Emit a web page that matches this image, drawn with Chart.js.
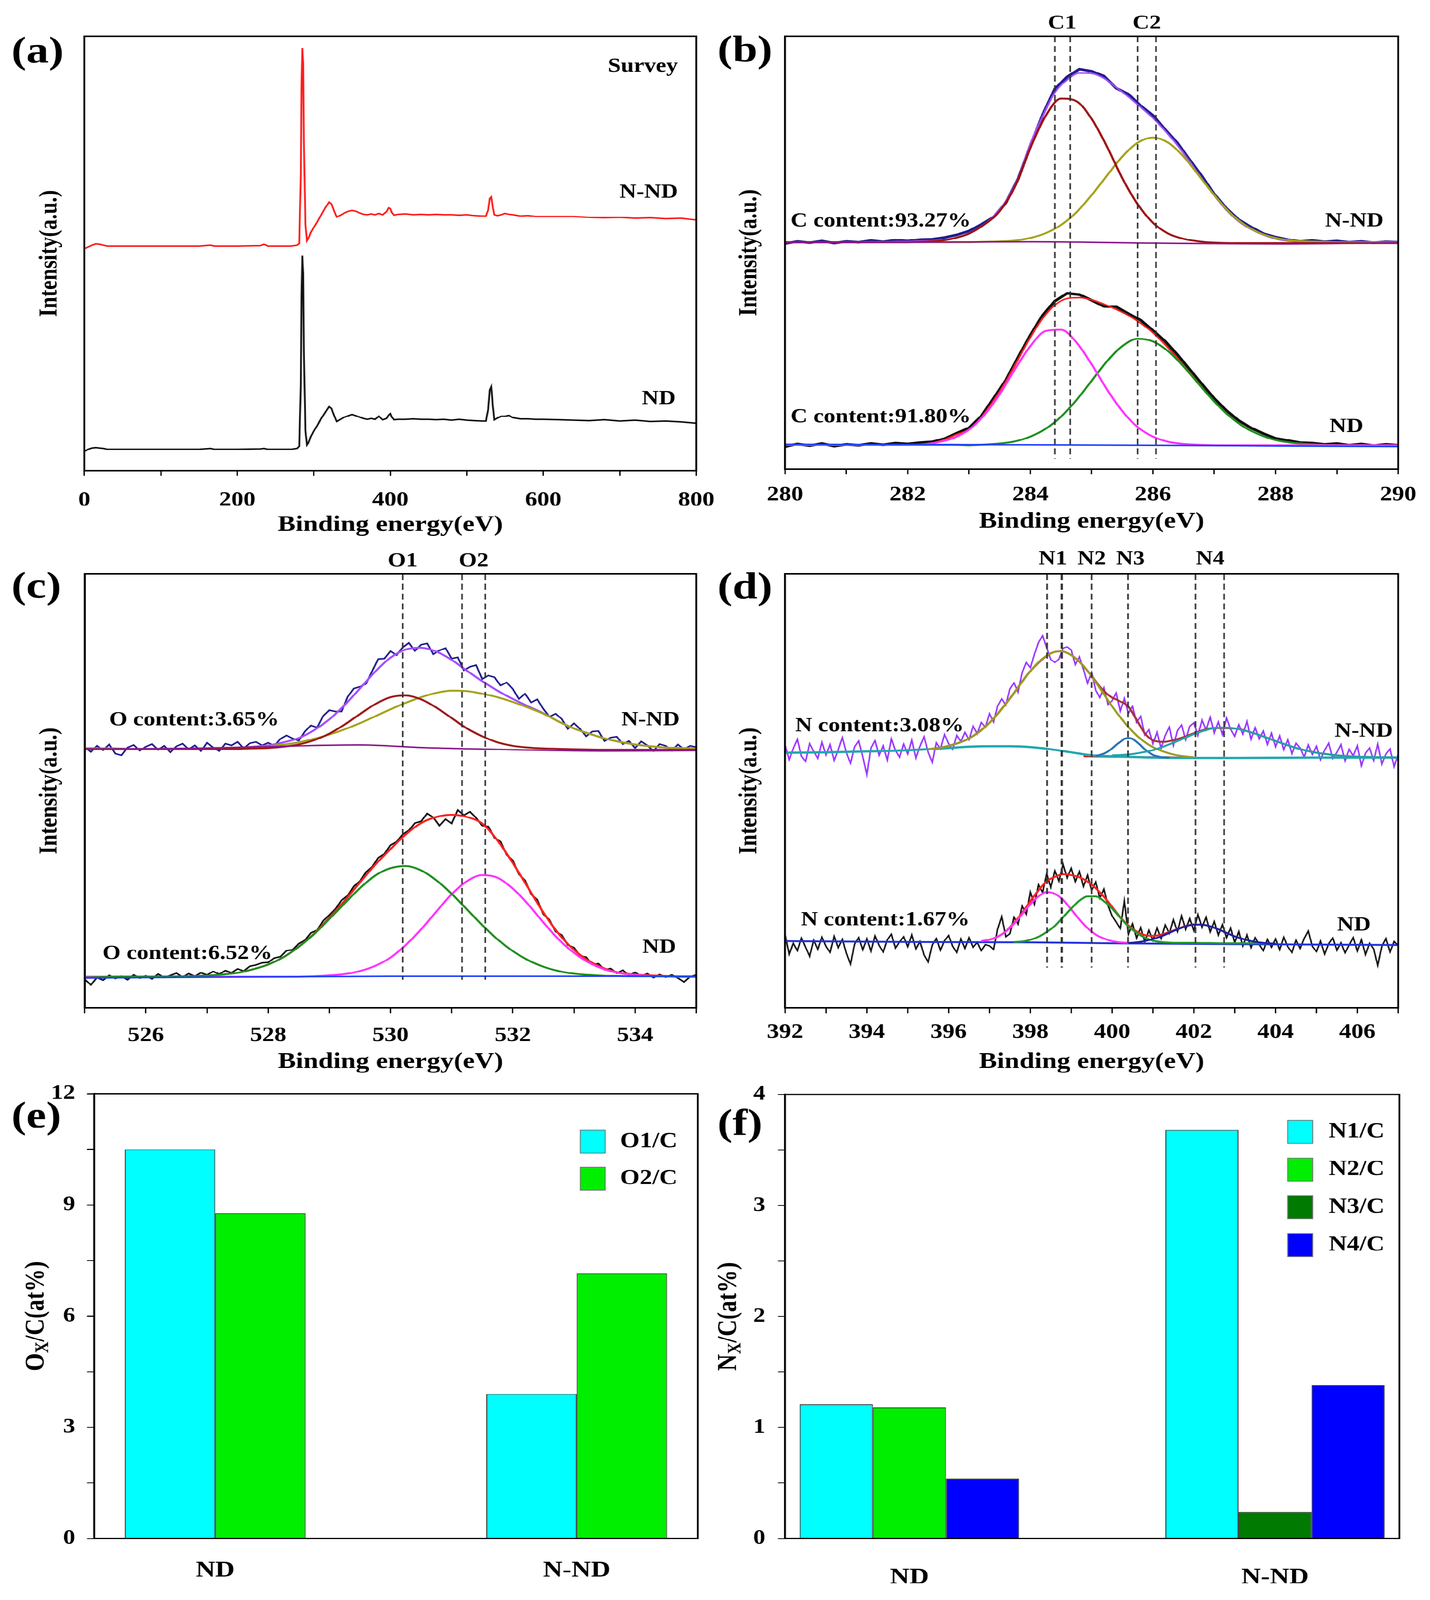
<!DOCTYPE html>
<html>
<head>
<meta charset="utf-8">
<title>XPS spectra of ND and N-ND</title>
<script src="https://cdn.jsdelivr.net/npm/chart.js@4.4.1/dist/chart.umd.min.js"></script>
<style>
  html, body { margin: 0; padding: 0; background: #fff; overflow: hidden; }
  #page { position: relative; width: 3185px; height: 4240px; transform-origin: 0 0; }
  #page canvas { position: absolute; }
</style>
</head>
<body>
<div id="page"></div>
<script>
// ---------- (a) survey ----------
const surveyE = [0, 5, 10, 15, 20, 25, 30, 50, 100, 150, 165, 170, 200, 230, 235, 240, 270, 278, 281, 283,
  284, 285, 286, 287, 289, 291, 293, 296, 300, 305, 310, 315, 320, 323, 326, 330, 335, 340, 345, 350,
  355, 360, 365, 370, 375, 380, 385, 390, 395, 398, 400, 402, 405, 410, 420, 430, 440, 450, 460, 470,
  480, 490, 500, 510, 520, 525, 528, 530, 532, 534, 536, 540, 545, 550, 555, 560, 570, 580, 590, 600,
  620, 640, 660, 680, 700, 720, 740, 760, 780, 800];
const surveyNND = [51.1, 51.5, 51.9, 52.2, 52.1, 51.9, 51.7, 51.7, 51.7, 51.7, 51.9, 51.7, 51.7, 51.8, 52.1, 51.7, 51.7, 51.9, 52.3, 68.0,
  88.2, 97.3, 93.8, 76.1, 56.8, 52.9, 53.5, 54.8, 56.0, 57.4, 59.0, 60.5, 61.8, 61.4, 60.0, 58.4, 58.8, 59.3, 59.7, 59.9,
  59.7, 59.3, 59.0, 58.9, 59.1, 58.9, 59.2, 58.9, 59.6, 60.5, 60.3, 59.4, 58.8, 59.0, 59.1, 58.9, 59.0, 58.9, 59.0, 58.9,
  58.9, 58.8, 58.9, 58.7, 58.6, 58.6, 60.0, 62.6, 63.0, 60.6, 58.9, 58.7, 58.9, 59.2, 59.0, 58.9, 58.6, 58.7, 58.5, 58.5,
  58.5, 58.5, 58.3, 58.2, 58.3, 58.1, 58.2, 58.0, 58.1, 57.7];
const surveyND = [4.4, 4.9, 5.2, 5.3, 5.2, 5.1, 4.9, 4.9, 4.9, 4.9, 5.1, 4.9, 4.9, 5.0, 5.1, 4.9, 4.9, 5.1, 5.6, 19.7,
  39.9, 49.5, 45.5, 27.8, 9.3, 5.9, 6.4, 7.8, 9.1, 10.5, 12.1, 13.4, 14.7, 14.3, 12.9, 11.3, 11.8, 12.3, 12.6, 12.9,
  12.6, 12.3, 12.0, 11.8, 12.0, 11.8, 12.5, 11.7, 12.0, 12.8, 13.1, 12.3, 11.7, 11.8, 11.8, 11.9, 11.8, 11.8, 11.7, 11.8,
  11.6, 11.8, 11.6, 11.5, 11.4, 11.4, 14.1, 18.5, 19.3, 14.9, 11.7, 12.1, 12.5, 12.5, 12.7, 12.2, 11.9, 11.9, 11.8, 11.8,
  11.7, 11.6, 11.5, 11.7, 11.4, 11.6, 11.3, 11.4, 11.2, 10.9];
const surveyTicks = [0, 200, 400, 600, 800];

// ---------- (b) C 1s ----------
const cTicks = [280, 282, 284, 286, 288, 290];
const cPeakLines = [284.4, 284.65, 285.75, 286.05];
const cPeakNames = ['C1', 'C2'];
const cPeakNameE = [284.52, 285.9];
const cRawNND = [52.1, 52.6, 52.3, 52.7, 52.2, 52.6, 52.4, 52.8, 52.5, 52.9, 52.7, 53.0, 53.1, 53.5, 54.1, 55.0, 56.5, 58.2, 61.5, 67.0,
  74.6, 81.8, 87.8, 90.6, 92.4, 91.9, 90.8, 88.0, 86.6, 83.9, 81.7, 78.4, 75.3, 71.4, 67.6, 63.5, 60.2, 57.6, 55.9, 54.4,
  53.6, 53.0, 52.6, 52.8, 52.5, 52.7, 52.4, 52.6, 52.3, 52.5, 52.4];
const cEnvNND = [52.4, 52.4, 52.4, 52.4, 52.4, 52.4, 52.45, 52.5, 52.5, 52.55, 52.6, 52.7, 52.75, 53.0, 53.5, 54.5, 56.1, 58.4, 61.9, 67.2,
  75.2, 81.5, 87.0, 89.9, 91.5, 91.4, 90.3, 88.2, 86.0, 83.6, 81.1, 78.1, 74.8, 71.0, 67.0, 63.2, 59.8, 57.2, 55.4, 54.1,
  53.2, 52.7, 52.5, 52.4, 52.4, 52.4, 52.4, 52.4, 52.4, 52.4, 52.4];
const cC1NND = [52.4, 52.4, 52.4, 52.4, 52.4, 52.4, 52.4, 52.4, 52.4, 52.5, 52.7, 53.3, 54.4, 56.5, 59.6, 65.3, 74.2, 81.6, 85.6, 85.0,
  80.9, 74.5, 67.2, 61.2, 56.9, 54.4, 53.2, 52.6, 52.3, 52.2, 52.2, 52.2, 52.2, 52.2, 52.2, 52.2, 52.2, 52.2, 52.2, 52.2, 52.2];
const cC2NND = [52.4, 52.4, 52.4, 52.4, 52.4, 52.4, 52.4, 52.4, 52.4, 52.4, 52.4, 52.4, 52.4, 52.5, 52.6, 52.8, 53.4, 54.5, 56.4, 59.3,
  63.3, 67.8, 72.2, 75.4, 76.6, 75.4, 72.2, 67.8, 63.3, 59.3, 56.4, 54.5, 53.4, 52.8, 52.6, 52.5, 52.4, 52.4, 52.4, 52.4, 52.4];
const cBaseE = [280, 282, 284, 286, 288, 290];
const cBaseNND = [52.3, 52.4, 52.5, 52.2, 52.0, 52.3];
const cRawND = [5.2, 5.8, 5.4, 5.9, 5.3, 5.7, 5.5, 5.9, 5.6, 6.0, 5.8, 6.1, 6.3, 7.0, 8.3, 9.5, 12.2, 16.3, 20.5, 25.8,
  30.9, 35.5, 38.8, 40.6, 40.3, 39.0, 37.6, 37.5, 35.9, 34.4, 32.0, 29.5, 26.4, 23.0, 19.6, 16.3, 13.5, 11.2, 9.5, 8.2,
  7.1, 6.6, 6.1, 6.0, 5.7, 5.9, 5.5, 5.8, 5.4, 5.7, 5.5];
const cEnvND = [5.6, 5.6, 5.6, 5.6, 5.6, 5.6, 5.6, 5.6, 5.6, 5.6, 5.6, 5.65, 6.0, 6.8, 8.0, 9.1, 11.9, 15.8, 20.2, 25.3,
  30.4, 34.8, 37.9, 39.4, 39.6, 39.1, 38.1, 36.9, 35.5, 33.7, 31.5, 28.7, 25.6, 22.3, 18.9, 15.6, 12.9, 10.6, 8.9, 7.6,
  6.7, 6.2, 5.9, 5.7, 5.6, 5.5, 5.5, 5.5, 5.5, 5.5, 5.5];
const cC1ND = [5.6, 5.6, 5.6, 5.6, 5.6, 5.6, 5.6, 5.6, 5.6, 5.7, 6.2, 7.2, 9.1, 12.5, 17.3, 23.1, 28.4, 31.9, 32.2, 29.3,
  24.2, 18.4, 13.4, 9.7, 7.5, 6.3, 5.8, 5.6, 5.5, 5.5, 5.5, 5.5, 5.5, 5.5, 5.5, 5.5, 5.5, 5.5, 5.5, 5.5, 5.5];
const cC2ND = [5.6, 5.6, 5.6, 5.6, 5.6, 5.6, 5.6, 5.6, 5.6, 5.6, 5.6, 5.6, 5.5, 5.65, 5.9, 6.4, 7.5, 9.3, 12.1, 15.9,
  20.4, 24.9, 28.4, 30.1, 29.5, 27.2, 23.7, 19.6, 15.6, 12.2, 9.6, 7.9, 6.7, 6.1, 5.8, 5.6, 5.5, 5.5, 5.5, 5.5, 5.5];
const cBaseND = [5.7, 5.65, 5.6, 5.5, 5.35, 5.2];

// ---------- (c) O 1s ----------
const oTicks = [526, 528, 530, 532, 534];
const oPeakLines = [530.2, 531.17, 531.55];
const oPeakNames = ['O1', 'O2'];
const oPeakNameE = [530.2, 531.36];
const oRawNND = [60.1, 59.0, 60.4, 59.4, 60.7, 58.6, 58.2, 60.0, 60.6, 59.3,
  60.2, 60.8, 59.5, 60.4, 58.9, 60.3, 60.9, 59.6, 60.5, 59.2,
  61.1, 60.0, 59.2, 60.9, 60.5, 61.3, 59.8, 61.0, 61.3, 60.5,
  61.1, 60.4, 62.0, 62.8, 62.1, 61.6, 63.7, 65.1, 64.6, 67.3,
  68.6, 68.3, 68.3, 71.7, 73.6, 74.0, 74.7, 77.6, 80.4, 80.5,
  82.2, 81.3, 83.1, 84.1, 82.3, 83.7, 84.0, 81.5, 82.4, 82.9,
  80.5, 80.8, 77.8, 78.6, 79.0, 75.8, 76.6, 76.2, 74.3, 75.0,
  73.5, 71.2, 72.4, 70.4, 71.1, 68.9, 67.1, 67.8, 66.6, 64.3,
  65.6, 64.3, 62.6, 63.7, 63.8, 61.5, 62.3, 62.5, 60.8, 61.5,
  59.9, 61.4, 60.5, 59.2, 60.8, 60.4, 59.3, 60.7, 59.6, 60.4, 60.1];
const oEnvNND = [59.8, 59.8, 59.8, 59.7, 59.7, 59.7, 59.7, 59.75, 59.8, 59.85, 59.9, 60.2, 60.5, 61.2, 62.2, 64.0, 66.5, 69.8, 73.6, 77.5,
  80.7, 82.6, 83.0, 82.1, 80.2, 77.7, 75.3, 73.1, 71.2, 69.5, 67.9, 66.0, 64.4, 63.2, 62.1, 61.3, 60.7, 60.3, 60.0, 59.9, 59.8];
const oO1NND = [59.7, 59.7, 59.7, 59.7, 59.7, 59.7, 59.7, 59.7, 59.7, 59.7, 59.7, 59.8, 59.9, 60.2, 60.7, 61.7, 63.2, 65.3, 67.7, 70.0,
  71.6, 72.0, 71.1, 69.2, 66.8, 64.4, 62.6, 61.2, 60.4, 60.0, 59.8, 59.7, 59.6, 59.55, 59.5, 59.5, 59.5, 59.5, 59.5, 59.5, 59.5];
const oO2NND = [59.9, 59.8, 59.8, 59.7, 59.7, 59.7, 59.7, 59.75, 59.8, 59.85, 59.9, 60.1, 60.3, 60.7, 61.2, 62.0, 63.0, 64.2, 65.6, 67.2,
  68.8, 70.3, 71.6, 72.6, 73.1, 73.0, 72.4, 71.6, 70.5, 69.2, 67.8, 66.0, 64.4, 63.2, 62.1, 61.3, 60.7, 60.3, 60.0, 59.9, 59.8];
const oBaseNNDE = [525, 527, 528.5, 529.5, 530.5, 532, 533.5, 535];
const oBaseNND = [59.7, 59.9, 60.4, 60.6, 60.0, 59.5, 59.2, 59.3];
const oRawND = [6.6, 5.3, 7.0, 6.4, 7.5, 6.8, 7.3, 6.5, 7.6, 6.9,
  7.4, 6.7, 7.8, 7.0, 7.5, 8.0, 7.1, 7.9, 7.3, 8.1,
  7.6, 8.4, 7.8, 8.6, 8.1, 9.0, 8.5, 9.6, 9.9, 10.4,
  10.5, 11.5, 11.8, 13.2, 13.4, 14.8, 15.6, 17.3, 17.9, 20.1,
  21.4, 22.8, 24.8, 25.9, 28.0, 29.2, 31.3, 32.5, 34.6, 35.5,
  37.5, 38.3, 40.0, 40.9, 42.6, 43.0, 44.8, 43.9, 42.0, 43.5,
  42.5, 45.6, 44.4, 45.2, 43.8, 42.0, 41.8, 39.2, 38.3, 35.3,
  34.0, 30.8, 29.4, 26.2, 24.9, 21.6, 20.3, 17.6, 16.8, 14.5,
  13.9, 12.0, 11.7, 10.0, 10.2, 8.8, 9.1, 8.0, 8.7, 7.5,
  8.2, 7.3, 7.9, 7.0, 7.7, 7.1, 7.6, 6.9, 6.0, 7.2, 7.6];
const oEnvND = [7.0, 7.1, 7.2, 7.2, 7.2, 7.2, 7.25, 7.3, 7.45, 7.7, 8.1, 8.9, 10.0, 11.7, 14.1, 17.1, 20.8, 24.7, 28.9, 33.0,
  36.6, 40.0, 42.6, 44.0, 44.5, 44.0, 42.5, 38.6, 33.4, 27.7, 22.0, 17.1, 13.4, 10.8, 9.1, 8.1, 7.7, 7.5, 7.35, 7.25, 7.2];
const oO1ND = [7.0, 7.1, 7.2, 7.2, 7.2, 7.2, 7.25, 7.3, 7.45, 7.7, 8.1, 8.9, 10.0, 11.7, 14.1, 17.0, 20.5, 24.1, 27.6, 30.5,
  32.2, 32.7, 31.7, 29.4, 26.3, 22.7, 19.1, 15.8, 13.1, 11.0, 9.5, 8.5, 7.9, 7.6, 7.4, 7.35, 7.3, 7.3, 7.25, 7.2, 7.2];
const oO2ND = [7.2, 7.2, 7.2, 7.2, 7.2, 7.2, 7.2, 7.2, 7.2, 7.2, 7.2, 7.2, 7.2, 7.2, 7.2, 7.3, 7.5, 7.8, 8.5, 9.7,
  11.6, 14.5, 18.1, 22.2, 26.2, 29.2, 30.6, 30.0, 27.5, 23.9, 19.7, 15.8, 12.7, 10.4, 8.9, 8.0, 7.6, 7.4, 7.3, 7.2, 7.2];
const oBaseNDE = [525, 530, 535];
const oBaseND = [6.9, 7.3, 7.3];

// ---------- (d) N 1s ----------
const nTicks = [392, 394, 396, 398, 400, 402, 404, 406];
const nPeakLines = [398.41, 398.77, 399.5, 400.39, 402.04, 402.74];
const nPeakNames = ['N1', 'N2', 'N3', 'N4'];
const nPeakNameE = [398.55, 399.5, 400.45, 402.4];
const nRawNND = [60.5, 57.2, 59.8, 61.9, 58.0, 56.8, 60.9, 59.1, 57.5, 61.2,
  58.3, 60.7, 57.0, 59.5, 62.3, 58.8, 56.4, 60.2, 61.5, 57.9,
  53.8, 59.9, 61.6, 58.2, 60.4, 57.1, 62.0, 59.3, 57.8, 60.8,
  58.5, 61.7, 57.6, 60.3, 62.5, 58.9, 56.6, 61.1, 59.7, 63.0,
  60.9, 59.6, 62.8, 61.4, 63.5, 61.8, 64.9, 63.2, 65.8, 64.7,
  67.8, 65.9, 69.6, 71.2, 69.8, 73.5, 74.9, 72.8, 77.3, 79.6,
  78.4, 81.5, 84.2, 85.8, 83.0, 80.3, 79.6, 80.4, 82.9, 83.2,
  82.5, 79.1, 80.9, 78.0, 74.8, 77.3, 73.2, 71.5, 73.8, 69.9,
  70.8, 72.6, 68.4, 71.3, 67.9, 69.5, 65.8, 67.2, 62.9, 64.1,
  60.9, 63.5, 59.8, 62.8, 64.7, 60.5, 63.9, 65.2, 61.8, 64.9,
  65.7, 62.8, 66.3, 64.1, 67.0, 63.4, 65.9, 63.0, 66.8, 64.2,
  62.6, 65.3, 63.1, 66.0, 61.9, 64.6, 62.0, 63.8, 60.7, 63.3,
  60.2, 62.7, 59.5, 61.8, 58.6, 61.0, 59.9, 57.8, 60.6, 58.4,
  60.3, 57.2, 59.4, 61.0, 57.5, 58.9, 60.7, 56.9, 59.6, 58.1,
  60.4, 55.8, 58.7, 59.9, 57.0, 60.8, 56.2, 58.5, 59.7, 55.6, 58.4];
const nN1NND = [59.6, 59.9, 60.4, 61.1, 62.1, 63.6, 65.7, 68.3, 71.3, 74.5, 77.6, 80.1, 81.7, 82.2, 81.3, 79.3, 76.4, 73.0,
  69.5, 66.4, 63.7, 61.6, 60.1, 59.1, 58.4, 58.0, 57.8];
const nN2NNDE = [399.3, 400, 400.8, 401.8];
const nN2NND = [58.0, 57.9, 57.8, 57.7];
const nN3NND = [58.1, 58.3, 58.6, 59.1, 59.8, 60.6, 61.3, 62.0, 62.2, 62.0, 61.3, 60.5, 59.6, 58.9, 58.3, 58.0, 57.8, 57.75, 57.7];
const nN4NND = [58.2, 58.3, 58.5, 58.9, 59.4, 60.2, 61.1, 62.1, 63.1, 63.9, 64.5, 64.6, 64.4, 63.9, 63.2, 62.4, 61.5, 60.7,
  59.9, 59.3, 58.8, 58.5, 58.2, 58.0, 57.9, 57.85, 57.8, 57.75, 57.7];
const nEnvNNDE = [395.5, 396, 396.5, 397, 397.5, 398, 398.5, 398.75, 399, 399.25, 399.5, 399.75, 400, 400.1, 400.2, 400.3,
  400.4, 400.5, 400.6, 400.7, 400.8, 400.9, 401, 401.25, 401.5, 401.75, 402, 402.5, 403, 403.5, 404, 404.5, 405, 405.5, 406, 407];
const nEnvNND = [59.6, 60.4, 62.1, 65.7, 71.3, 77.6, 81.7, 82.2, 81.3, 79.3, 76.5, 73.5, 71.5, 71.1, 70.6, 70.2,
  69.4, 68.0, 66.4, 64.8, 63.3, 62.3, 61.7, 61.3, 61.7, 62.4, 63.3, 64.5, 64.4, 63.2, 61.5, 59.9, 58.8, 58.2, 57.9, 57.7];
const nBaseNNDE = [392, 393, 394, 395, 396, 396.5, 397, 397.5, 398, 398.5, 399, 399.5, 400, 401, 402, 403, 405, 407];
const nBaseNND = [58.8, 58.9, 59.1, 59.4, 59.9, 60.2, 60.3, 60.3, 60.1, 59.6, 58.9, 58.2, 58.0, 57.7, 57.6, 57.6, 57.7, 57.7];
const nRawND = [16.8, 12.4, 14.9, 13.2, 16.1, 14.0, 11.9, 15.6, 13.5, 16.3,
  14.2, 12.8, 16.5, 13.9, 15.8, 12.6, 10.1, 14.7, 16.2, 13.4,
  15.9, 13.1, 16.6, 14.4, 12.9, 15.7, 17.0, 13.8, 15.2, 16.4,
  14.1, 16.8, 13.6, 15.3, 12.2, 10.6, 14.5, 16.0, 13.3, 15.5,
  16.7, 14.2, 12.8, 15.9, 13.7, 16.2, 14.0, 15.1, 13.2, 14.6,
  14.3, 13.5, 18.2, 21.0, 16.4, 17.1, 20.9, 19.3, 23.5, 21.6,
  26.7, 23.9, 28.4, 26.6, 30.9, 27.8, 31.6, 29.2, 33.1, 30.0,
  32.2, 29.1, 31.4, 28.0, 30.6, 27.1, 29.0, 25.3, 27.4, 23.6,
  21.2, 19.8, 18.3, 24.6, 17.0, 19.4, 16.1, 18.5, 15.3, 17.9,
  15.6, 18.4, 16.0, 19.1, 17.2, 20.3, 17.6, 21.2, 18.1, 20.6,
  17.8, 21.5, 18.6, 20.9, 17.5, 19.9, 16.8, 19.2, 16.2, 18.4,
  15.1, 17.6, 14.3, 16.8, 13.9, 16.2, 14.6, 13.2, 15.8, 14.0,
  15.9, 13.4, 16.3, 14.1, 12.8, 15.6, 13.7, 16.0, 17.7, 14.2,
  13.0, 15.4, 12.4, 14.8, 16.1, 13.3, 15.0, 12.7, 14.5, 16.2,
  13.1, 15.7, 12.3, 14.9, 13.6, 9.8, 14.2, 16.0, 12.9, 15.3, 14.4];
const nN1ND = [15.4, 15.7, 16.4, 17.6, 19.4, 21.6, 23.9, 25.7, 26.7, 26.3, 24.9, 22.7, 20.4, 18.4, 16.9, 16.0, 15.4, 15.1, 15.0];
const nN2ND = [15.2, 15.3, 15.7, 16.4, 17.5, 18.9, 20.9, 22.9, 24.7, 25.7, 25.7, 24.6, 22.9, 20.8, 18.8, 17.3, 16.2, 15.5,
  15.2, 15.05, 15.0, 15.0, 15.0, 14.95, 14.95, 14.9, 14.9, 14.9, 14.9, 14.9, 14.9, 14.85, 14.85];
const nN4ND = [14.95, 15.1, 15.4, 15.9, 16.5, 17.3, 18.1, 18.8, 19.2, 19.2, 18.8, 18.1, 17.3, 16.5, 15.9, 15.4, 15.1, 14.9, 14.8];
const nEnvND = [15.4, 15.75, 16.4, 17.65, 19.6, 21.9, 24.6, 27.1, 29.2, 30.2, 30.8, 30.6, 30.1, 29.1, 27.6, 25.6, 23.3, 20.9,
  19.0, 17.6, 16.8, 16.6, 16.9, 17.5, 18.2, 18.9, 19.3];
const nBaseNDE = [392, 395, 398, 400, 403, 407];
const nBaseND = [15.4, 15.2, 15.1, 14.9, 14.7, 14.5];

// ---------- (e), (f) ratios ----------
const groups = ['ND', 'N-ND'];
const oxO1 = [10.5, 3.9];
const oxO2 = [8.78, 7.15];
const oxTicks = [0, 3, 6, 9, 12];
const nxN1 = [1.21, 3.68];
const nxN2 = [1.18, null];
const nxN3 = [null, 0.24];
const nxN4 = [0.54, 1.38];
const nxTicks = [0, 1, 2, 3, 4];

// ---------- drawing ----------
const S = 1.15;   // the source figure is stretched a little sideways
const FONT = '"Liberation Serif", "Times New Roman", serif';
Chart.defaults.font.family = FONT;
Chart.defaults.color = '#000';

// fit the 4240px-tall figure into whatever height the window really has
const SY = Math.min(1, window.innerHeight / 4240);
document.getElementById('page').style.transform = `scale(${S}, ${SY})`;

function grid(a, b, step) {
  const n = Math.round((b - a) / step);
  return Array.from({length: n + 1}, (_, i) => Math.round((a + i * step) * 1000) / 1000);
}

function curve(xs, ys, color, width, smooth) {
  return {
    data: xs.map((x, i) => ({x, y: ys[i]})),
    borderColor: color, borderWidth: width, pointRadius: 0, fill: false, tension: 0,
    cubicInterpolationMode: smooth ? 'monotone' : 'default'
  };
}

function bars(label, vals, color, share) {
  return {
    label, data: vals.map((v, i) => ({x: i + 1, y: v})),
    backgroundColor: color, borderColor: '#333', borderWidth: 2,
    categoryPercentage: share, barPercentage: 1, skipNull: true
  };
}

function decor(p) {
  const X = v => (v - p.box.x) / S, Y = v => v - p.box.y;
  return {
    id: 'decor',
    afterDatasetsDraw(chart) {
      if (!p.peaks) return;
      const {ctx, chartArea: a, scales: {x, y}} = chart;
      ctx.save();
      ctx.strokeStyle = '#333';
      ctx.setLineDash([16, 10]);
      p.peaks.lines.forEach((e, i) => {
        const px = x.getPixelForValue(e);
        ctx.lineWidth = i === p.peaks.heavy ? 5 : 3.5;
        ctx.beginPath();
        ctx.moveTo(px, a.top);
        ctx.lineTo(px, y.getPixelForValue(p.peaks.bottom));
        ctx.stroke();
      });
      ctx.restore();
    },
    afterDraw(chart) {
      const {ctx, chartArea: a, scales: {x, y}} = chart;
      ctx.save();
      ctx.strokeStyle = '#000';
      ctx.lineWidth = 4;
      ctx.strokeRect(a.left, a.top, a.right - a.left, a.bottom - a.top);
      ctx.fillStyle = '#000';
      ctx.textBaseline = 'middle';
      ctx.textAlign = 'left';
      ctx.font = `bold 100px ${FONT}`;
      ctx.fillText(p.letter[0], X(p.letter[1]), Y(p.letter[2]));
      ctx.font = `bold 52px ${FONT}`;
      if (p.peaks) {
        ctx.textAlign = 'center';
        p.peaks.names.forEach((n, i) => ctx.fillText(n, x.getPixelForValue(p.peaks.at[i]), a.top - p.peaks.lift));
      }
      (p.notes || []).forEach(n => {
        ctx.textAlign = n[3];
        ctx.fillText(n[0], x.getPixelForValue(n[1]), y.getPixelForValue(n[2]));
      });
      if (p.legend) {
        const L = p.legend;
        chart.data.datasets.forEach((d, i) => {
          const top = Y(L.top + i * L.step);
          ctx.fillStyle = d.backgroundColor;
          ctx.fillRect(X(L.left), top, 64 / S, 61);
          ctx.strokeStyle = '#777';
          ctx.lineWidth = 2;
          ctx.strokeRect(X(L.left), top, 64 / S, 61);
          ctx.fillStyle = '#000';
          ctx.font = `bold 56px ${FONT}`;
          ctx.textAlign = 'left';
          ctx.fillText(d.label, X(L.text), top + 31);
        });
      }
      if (p.subTitle) {
        const T = p.subTitle.parts;
        const big = `bold 61px ${FONT}`, small = `bold 42px ${FONT}`;
        ctx.translate(X(p.subTitle.x), (a.top + a.bottom) / 2);
        ctx.rotate(-Math.PI / 2);
        ctx.textAlign = 'left';
        ctx.font = big;
        const w1 = ctx.measureText(T[0]).width, w3 = ctx.measureText(T[2]).width;
        ctx.font = small;
        const w2 = ctx.measureText(T[1]).width;
        let cx = -(w1 + w2 + w3) / 2;
        ctx.font = big; ctx.fillText(T[0], cx, 0); cx += w1;
        ctx.font = small; ctx.fillText(T[1], cx, 15); cx += w2;
        ctx.font = big; ctx.fillText(T[2], cx, 0);
      }
      ctx.restore();
    }
  };
}

function panel(p) {
  const cv = document.createElement('canvas');
  const w = Math.round(p.box.w / S), h = p.box.h;
  cv.width = w;
  cv.height = h;
  cv.style.left = (p.box.x / S) + 'px';
  cv.style.top = p.box.y + 'px';
  cv.style.width = w + 'px';
  cv.style.height = h + 'px';
  document.getElementById('page').appendChild(cv);

  const yW = (p.area.l - p.box.x) / S;
  const xH = p.box.y + h - p.area.b;

  const xs = {
    type: 'linear', min: p.x.min, max: p.x.max, offset: false,
    afterFit: s => { s.height = xH; },
    border: {display: true, width: 4, color: '#000'},
    grid: p.bars ? {display: false}
      : {display: true, drawOnChartArea: false, drawTicks: true, tickLength: 14, tickWidth: 3, tickColor: '#000'},
    ticks: {
      stepSize: p.x.step, autoSkip: false, maxRotation: 0, padding: p.x.pad, color: '#000',
      font: {size: p.bars ? 60 : 54, weight: 'bold'},
      callback: v => p.x.names ? (p.x.names[Math.round(v) - 1] || '') : (p.x.labels.includes(v) ? String(v) : '')
    },
    title: p.x.title
      ? {display: true, text: p.x.title, color: '#000', font: {size: 60, weight: 'bold'},
         padding: {top: 0, bottom: h - (p.x.titleY - p.box.y) - 36}}
      : {display: false}
  };
  if (p.x.names) xs.afterBuildTicks = s => { s.ticks = p.x.names.map((n, i) => ({value: i + 1})); };

  const ys = {
    type: 'linear', min: p.y.min, max: p.y.max,
    afterFit: s => { s.width = yW; },
    border: {display: true, width: 4, color: '#000'},
    grid: p.y.step
      ? {display: true, drawOnChartArea: false, drawTicks: true, tickLength: 16, tickWidth: 3, tickColor: '#000'}
      : {display: false},
    ticks: p.y.step
      ? {stepSize: p.y.step, autoSkip: false, padding: p.y.pad, color: '#000', font: {size: 54, weight: 'bold'},
         callback: v => (p.y.labels.includes(v) ? String(v) : '')}
      : {display: false},
    title: p.y.title
      ? {display: true, text: p.y.title, color: '#000', font: {size: 56, weight: 'bold'},
         padding: {top: (p.y.titleX - p.box.x) / S - 33.6, bottom: 0}}
      : {display: false}
  };

  new Chart(cv, {
    type: p.bars ? 'bar' : 'line',
    data: {datasets: p.datasets},
    options: {
      responsive: false, animation: false, devicePixelRatio: 1,
      layout: {padding: {left: 0, top: p.area.t - p.box.y, right: w - (p.area.r - p.box.x) / S, bottom: 0}},
      plugins: {legend: {display: false}, tooltip: {enabled: false}},
      scales: {x: xs, y: ys}
    },
    plugins: [decor(p)]
  });
}

const BE = 'Binding energy(eV)';
const INT = 'Intensity(a.u.)';

// (a)
panel({
  box: {x: 0, y: 0, w: 1900, h: 1460}, area: {l: 216, t: 96, r: 1783, b: 1247},
  x: {min: 0, max: 800, step: 100, labels: surveyTicks, pad: 33, title: BE, titleY: 1391},
  y: {min: 0, max: 100, title: INT, titleX: 128},
  letter: ['(a)', 29, 140],
  notes: [['Survey', 776, 93, 'right'], ['N-ND', 776, 64, 'right'], ['ND', 773, 16.5, 'right']],
  datasets: [curve(surveyE, surveyNND, '#ff1a1a', 4), curve(surveyE, surveyND, '#111111', 4)]
});

// (b)
const cRawE = grid(280, 290, 0.2), cFitE = grid(280, 290, 0.25);
panel({
  box: {x: 1790, y: 0, w: 1872, h: 1460}, area: {l: 2010, t: 96, r: 3580, b: 1243},
  x: {min: 280, max: 290, step: 1, labels: cTicks, pad: 23, title: BE, titleY: 1382},
  y: {min: 0, max: 100, title: INT, titleX: 1919},
  letter: ['(b)', 1837, 137],
  peaks: {lines: cPeakLines, names: cPeakNames, at: cPeakNameE, bottom: 2.4, lift: 33, heavy: -1},
  notes: [['C content:93.27%', 280.09, 57.2, 'left'], ['N-ND', 289.76, 57.2, 'right'],
          ['C content:91.80%', 280.09, 12.0, 'left'], ['ND', 289.43, 9.7, 'right']],
  datasets: [
    curve(cBaseE, cBaseNND, '#8c1a8c', 4, true),
    curve(cFitE, cC1NND, '#9e1111', 5, true),
    curve(cFitE, cC2NND, '#a3a31a', 5, true),
    curve(cRawE, cEnvNND, '#a64dff', 4, true),
    curve(cRawE, cRawNND, '#1e1e8c', 7),
    curve(cBaseE, cBaseND, '#2040ff', 4, true),
    curve(cFitE, cC1ND, '#ff33ff', 5, true),
    curve(cFitE, cC2ND, '#1f8f1f', 5, true),
    curve(cRawE, cEnvND, '#ff2020', 4, true),
    curve(cRawE, cRawND, '#111111', 7)
  ]
});

// (c)
const oRawE = grid(525, 535, 0.1), oFitE = grid(525, 535, 0.25);
panel({
  box: {x: 0, y: 1400, w: 1900, h: 1500}, area: {l: 217, t: 1521, r: 1783, b: 2671},
  x: {min: 525, max: 535, step: 1, labels: oTicks, pad: 28, title: BE, titleY: 2814},
  y: {min: 0, max: 100, title: INT, titleX: 128},
  letter: ['(c)', 29, 1558],
  peaks: {lines: oPeakLines, names: oPeakNames, at: oPeakNameE, bottom: 6.5, lift: 33, heavy: -1},
  notes: [['O content:3.65%', 525.40, 66.3, 'left'], ['N-ND', 534.73, 66.3, 'right'],
          ['O content:6.52%', 525.29, 12.5, 'left'], ['ND', 534.67, 13.9, 'right']],
  datasets: [
    curve(oBaseNNDE, oBaseNND, '#8c1a8c', 4, true),
    curve(oFitE, oO1NND, '#9e1a1a', 5, true),
    curve(oFitE, oO2NND, '#a3a31a', 5, true),
    curve(oFitE, oEnvNND, '#a64dff', 5, true),
    curve(oRawE, oRawNND, '#1e1e8c', 4),
    curve(oBaseNDE, oBaseND, '#2040ff', 4, true),
    curve(oFitE, oO1ND, '#1f8f1f', 5, true),
    curve(oFitE, oO2ND, '#ff33ff', 5, true),
    curve(oFitE, oEnvND, '#ff2020', 5, true),
    curve(oRawE, oRawND, '#111111', 4)
  ]
});

// (d)
const nRawE = grid(392, 407, 0.1);
panel({
  box: {x: 1790, y: 1400, w: 1872, h: 1500}, area: {l: 2010, t: 1521, r: 3580, b: 2671},
  x: {min: 392, max: 407, step: 1, labels: nTicks, pad: 19, title: BE, titleY: 2814},
  y: {min: 0, max: 100, title: INT, titleX: 1919},
  letter: ['(d)', 1837, 1560],
  peaks: {lines: nPeakLines, names: nPeakNames, at: nPeakNameE, bottom: 9.3, lift: 38, heavy: 1},
  notes: [['N content:3.08%', 392.25, 64.9, 'left'], ['N-ND', 406.87, 63.7, 'right'],
          ['N content:1.67%', 392.39, 20.2, 'left'], ['ND', 406.33, 19.0, 'right']],
  datasets: [
    curve(grid(400, 407, 0.25), nN4NND, '#22a3a8', 5, true),
    curve(grid(399.6, 401.4, 0.1), nN3NND, '#2a72b5', 5, true),
    curve(grid(395.5, 402, 0.25), nN1NND, '#9c9c22', 5, true),
    curve(nBaseNNDE, nBaseNND, '#22a8ae', 6, true),
    curve(nN2NNDE, nN2NND, '#d02020', 5, true),
    curve(nEnvNNDE, nEnvNND, '#a8323e', 5, true),
    curve(nRawE, nRawNND, '#9933ff', 3.5),
    curve(grid(400.4, 404, 0.2), nN4ND, '#2020a8', 5, true),
    curve(grid(397.6, 404, 0.2), nN2ND, '#22992a', 5, true),
    curve(grid(396.8, 400.4, 0.2), nN1ND, '#ff33ff', 5, true),
    curve(nBaseNDE, nBaseND, '#2233dd', 5, true),
    curve(grid(396.8, 402, 0.2), nEnvND, '#ff2020', 5, true),
    curve(nRawE, nRawND, '#111111', 3.5)
  ]
});

// (e)
panel({
  bars: true,
  box: {x: 0, y: 2840, w: 1900, h: 1400}, area: {l: 241, t: 2885, r: 1787, b: 4077},
  x: {min: 0.665, max: 2.335, names: groups, pad: 41},
  y: {min: 0, max: 12, step: 1.5, labels: oxTicks, pad: 26},
  letter: ['(e)', 29, 2962],
  legend: {left: 1486, top: 2995, step: 98, text: 1588},
  subTitle: {parts: ['O', 'X', '/C(at%)'], x: 93},
  datasets: [bars('O1/C', oxO1, '#00ffff', 0.5), bars('O2/C', oxO2, '#00ee00', 0.5)]
});

// (f)
panel({
  bars: true,
  box: {x: 1790, y: 2840, w: 1872, h: 1400}, area: {l: 2010, t: 2885, r: 3583, b: 4077},
  x: {min: 0.66, max: 2.34, names: groups, pad: 59},
  y: {min: 0, max: 4, step: 0.5, labels: nxTicks, pad: 28},
  letter: ['(f)', 1837, 2982],
  legend: {left: 3297, top: 2969, step: 100, text: 3402},
  subTitle: {parts: ['N', 'X', '/C(at%)'], x: 1866},
  datasets: [bars('N1/C', nxN1, '#00ffff', 0.6), bars('N2/C', nxN2, '#00ee00', 0.6),
             bars('N3/C', nxN3, '#007a00', 0.6), bars('N4/C', nxN4, '#0000ff', 0.6)]
});
</script>
</body>
</html>
